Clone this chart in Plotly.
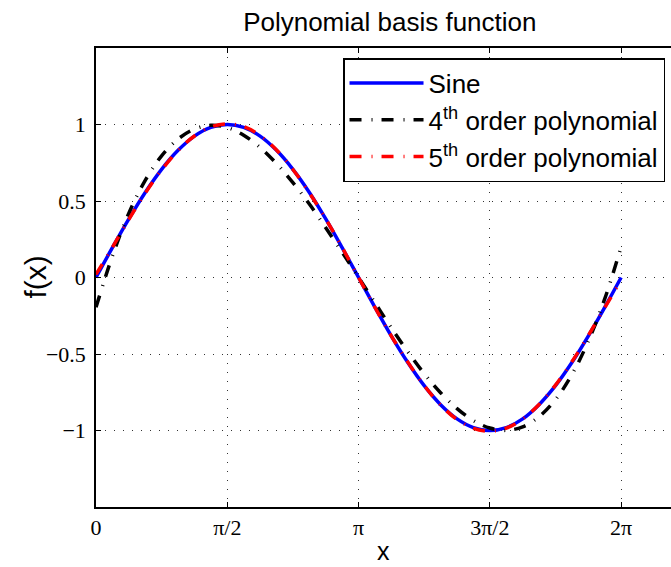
import plotly.graph_objects as go
import numpy as np

# sample positions along x (radians)
x_vals = [0.0, 0.196, 0.393, 0.589, 0.785, 0.982, 1.178, 1.374, 1.571, 1.767, 1.963,
          2.160, 2.356, 2.553, 2.749, 2.945, 3.142, 3.338, 3.534, 3.731, 3.927, 4.123,
          4.320, 4.516, 4.712, 4.909, 5.105, 5.301, 5.498, 5.694, 5.890, 6.087, 6.283]

sine_vals = [0.0, 0.195, 0.383, 0.556, 0.707, 0.831, 0.924, 0.981, 1.0, 0.981, 0.924,
             0.831, 0.707, 0.556, 0.383, 0.195, 0.0, -0.195, -0.383, -0.556, -0.707, -0.831,
             -0.924, -0.981, -1.0, -0.981, -0.924, -0.831, -0.707, -0.556, -0.383, -0.195, 0.0]

poly4_vals = [-0.195, 0.14, 0.42, 0.635, 0.795, 0.905, 0.97, 0.995, 0.98, 0.93, 0.85,
              0.745, 0.62, 0.48, 0.325, 0.165, 0.0, -0.165, -0.33, -0.485, -0.628, -0.753,
              -0.857, -0.935, -0.984, -0.999, -0.976, -0.91, -0.798, -0.635, -0.417, -0.14, 0.2]

poly5_vals = [0.02, 0.197, 0.380, 0.551, 0.703, 0.830, 0.925, 0.984, 1.004, 0.986, 0.928,
              0.833, 0.706, 0.553, 0.383, 0.196, 0.0, -0.196, -0.383, -0.553, -0.706, -0.833,
              -0.928, -0.986, -1.004, -0.984, -0.925, -0.830, -0.703, -0.551, -0.380, -0.197, -0.02]

series_names = ["Sine", "4<sup>th</sup> order polynomial", "5<sup>th</sup> order polynomial"]

x_tick_vals = [0, np.pi / 2, np.pi, 3 * np.pi / 2, 2 * np.pi]
x_tick_text = ["0", "π/2", "π", "3π/2", "2π"]
y_tick_vals = [-1, -0.5, 0, 0.5, 1]
y_tick_text = ["−1", "−0.5", "0", "0.5", "1"]

dashdot = "12px,10px,1px,9px"

fig = go.Figure()
fig.add_trace(go.Scatter(x=x_vals, y=sine_vals, mode="lines", name=series_names[0],
                         line=dict(color="#0000ff", width=3.5, shape="spline")))
fig.add_trace(go.Scatter(x=x_vals, y=poly4_vals, mode="lines", name=series_names[1],
                         line=dict(color="#000000", width=3.5, dash=dashdot, shape="spline")))
fig.add_trace(go.Scatter(x=x_vals, y=poly5_vals, mode="lines", name=series_names[2],
                         line=dict(color="#ff0000", width=3.5, dash=dashdot, shape="spline")))

axis_common = dict(
    showline=True, linecolor="black", linewidth=1.5,
    ticks="inside", ticklen=5, tickcolor="black", tickwidth=1,
    showgrid=True, gridcolor="#333333", gridwidth=1, griddash="1px,8px",
    zeroline=False, automargin=False,
    tickfont=dict(family="Liberation Serif, Times New Roman, serif", size=22, color="black"),
)

fig.update_xaxes(**axis_common, range=[0, 6.88], tickvals=x_tick_vals, ticktext=x_tick_text,
                 mirror="allticks", ticklabelstandoff=0)
fig.update_yaxes(**axis_common, range=[-1.5, 1.5], tickvals=y_tick_vals, ticktext=y_tick_text,
                 mirror=False, ticklabelstandoff=4)

label_font = dict(family="Liberation Sans, Arial, sans-serif", color="black")
fig.add_annotation(text="x", xref="paper", yref="paper", x=0.5, y=-0.1307,
                   xanchor="center", yanchor="bottom", showarrow=False,
                   font=dict(**label_font, size=25))
fig.add_annotation(text="f(x)", xref="paper", yref="paper", x=-0.106, y=0.5,
                   xanchor="center", yanchor="middle", textangle=-90, showarrow=False,
                   font=dict(**label_font, size=30))

fig.update_layout(
    width=671, height=567,
    margin=dict(l=96, r=0, t=48, b=60),
    plot_bgcolor="white", paper_bgcolor="white",
    title=dict(text="Polynomial basis function", xref="paper", x=0.511, xanchor="center",
               y=1 - 22 / 567, yanchor="middle",
               font=dict(family="Liberation Sans, Arial, sans-serif", size=26, color="black")),
    legend=dict(x=0.4296, y=0.978, xanchor="left", yanchor="top",
                bgcolor="white", bordercolor="black", borderwidth=1.5,
                font=dict(family="Liberation Sans, Arial, sans-serif", size=26, color="black"),
                itemwidth=74),
    showlegend=True,
)

fig.write_html("out.html")
